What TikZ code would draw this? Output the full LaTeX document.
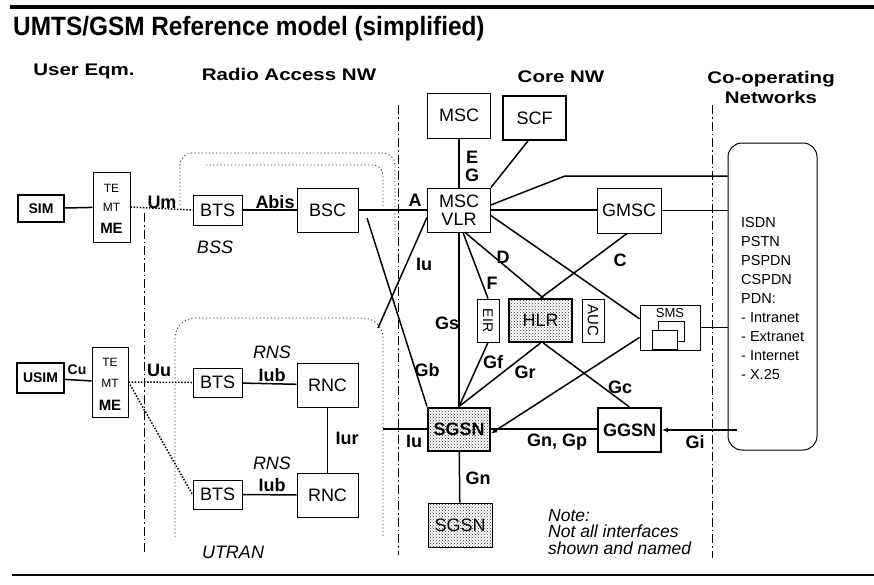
\documentclass[tikz,border=0pt]{standalone}
\usepackage{fontspec}
\usepackage{graphicx}
\setmainfont{Liberation Sans}
\newfontfamily\hdrfont[FakeStretch=1.22]{Liberation Sans}
\newfontfamily\ttlfont[FakeStretch=0.92]{Liberation Sans}
\usetikzlibrary{arrows.meta,patterns}
\newcommand\setfs[1]{\fontsize{#1}{#1}\selectfont}
\newcommand\setfsb[2]{\fontsize{#1}{#2}\selectfont}

\begin{document}
\begin{tikzpicture}[x=1pt,y=-1pt,
  box/.style={draw, line width=1pt, inner sep=0pt, font=\setfs{18}},
  heavy/.style={line width=2pt},
  stipple/.style={pattern=crosshatch dots, pattern color=black!80},
  lbl/.style={font=\bfseries\setfs{18}, inner sep=0pt},
  itlbl/.style={font=\itshape\setfs{18}, inner sep=0pt},
  hdr/.style={font=\hdrfont\bfseries\setfs{16.8}, inner sep=0pt, anchor=base},
  small/.style={font=\setfs{12}, inner sep=0pt},
  link/.style={line width=1.5pt},
  air/.style={line width=1.5pt, dash pattern=on 1.5pt off 1.6pt},
  frame/.style={line width=0.8pt, dash pattern=on 9pt off 3pt on 1.5pt off 3pt},
  zone/.style={line width=0.8pt, dash pattern=on 1.2pt off 2.4pt, black!80},
  tip/.style={-{Latex[length=6pt,width=5pt]}}
]
\useasboundingbox (0,0) rectangle (874,584);

% ---- rules and title ----
\coordinate (tl) at (10,6.5);  \coordinate (tr) at (874,6.5);
\coordinate (bl) at (12,575);  \coordinate (br) at (874,575);
\draw[line width=4pt] (tl) -- (tr);
\draw[line width=2.5pt] (bl) -- (br);
\node[anchor=base west, inner sep=0pt, font=\ttlfont\bfseries\setfs{26.5}] (title) at (13,35)
  {UMTS/GSM Reference model (simplified)};

% ---- column headers ----
\node[hdr] (hUE)  at (84,75)  {User Eqm.};
\node[hdr] (hRAN) at (289,80) {Radio Access NW};
\node[hdr] (hCN)  at (561,82) {Core NW};
\node[hdr] (hCO1) at (771,83) {Co-operating};
\node[hdr] (hCO2) at (771,103) {Networks};

% ---- domain borders ----
\coordinate (b1t) at (144,213); \coordinate (b1b) at (144,552);
\coordinate (b2t) at (398,105); \coordinate (b2b) at (398,555);
\coordinate (b3t) at (712,105); \coordinate (b3b) at (712,558);
\draw[frame] (b1t) -- (b1b);
\draw[frame] (b2t) -- (b2b);
\draw[frame] (b3t) -- (b3b);

% ---- BSS and UTRAN outlines ----
\draw[zone, rounded corners=12pt] (180,205) -- (180,153) -- (395,153) -- (395,235);
\draw[zone, rounded corners=10pt] (206,165) -- (383,165) -- (383,207);
\draw[zone, rounded corners=20pt] (175,537) -- (175,318) -- (383,318) -- (383,537);

% ---- user equipment ----
\node[box, line width=1.3pt, minimum width=46, minimum height=27, font=\bfseries\setfs{14}] (SIM) at (41,208.5) {SIM};
\node[box, minimum width=37, minimum height=70] (ME1) at (111.5,207) {};
\node[small] (te1) at (111.5,188) {TE};
\node[small] (mt1) at (111.5,207) {MT};
\node[inner sep=0pt, font=\bfseries\setfs{15}] (me1) at (111.5,228) {ME};

\node[box, line width=1.3pt, minimum width=47, minimum height=30, font=\bfseries\setfs{14}] (USIM) at (40.5,378) {USIM};
\node[box, minimum width=36, minimum height=70] (ME2) at (110,382) {};
\node[small] (te2) at (110,362) {TE};
\node[small] (mt2) at (110,383) {MT};
\node[inner sep=0pt, font=\bfseries\setfs{15}] (me2) at (110,405) {ME};

% ---- radio access ----
\node[box, minimum width=49, minimum height=30] (BTSg) at (217.5,210) {BTS};
\node[box, minimum width=61, minimum height=44] (BSC)  at (327.5,210) {BSC};
\node[box, minimum width=49, minimum height=29] (BTS1) at (217.5,382.5) {BTS};
\node[box, minimum width=49, minimum height=29] (BTS2) at (217.5,494.5) {BTS};
\node[box, minimum width=61, minimum height=44] (RNC1) at (327.5,385) {RNC};
\node[box, minimum width=61, minimum height=44] (RNC2) at (327.5,495) {RNC};

% ---- core network ----
\node[box, minimum width=63, minimum height=45] (MSC) at (459,115.5) {MSC};
\node[box, heavy, minimum width=63, minimum height=44] (SCF) at (534.5,118) {SCF};
\node[box, minimum width=63, minimum height=44, align=center, font=\setfs{18}] (VLR) at (459,210) {MSC\\VLR};
\node[box, minimum width=64, minimum height=45] (GMSC) at (629,210.5) {GMSC};
\node[box, minimum width=22, minimum height=43, font=\setfs{14}] (EIR) at (488,320.5) {\rotatebox{-90}{EIR}};
\node[box, heavy, stipple, minimum width=63, minimum height=43] (HLR) at (540.5,320.5) {HLR};
\node[box, minimum width=22, minimum height=43, font=\setfs{15}] (AUC) at (593,320.5) {\rotatebox{-90}{AUC}};
\node[box, minimum width=60, minimum height=45] (SMS) at (670,327.5) {};
\node[small, font=\setfs{13}] (smst) at (670,313) {SMS};
\draw[line width=1pt] (658,321) rectangle (684,341);
\draw[line width=1pt, fill=white] (652,330) rectangle (677,349);
\node[box, heavy, stipple, minimum width=62, minimum height=43, font=\bfseries\setfs{18}] (SGSN) at (459,429) {SGSN};
\node[box, heavy, minimum width=63, minimum height=44, font=\bfseries\setfs{18}] (GGSN) at (629.5,430) {GGSN};
\node[box, stipple, minimum width=64, minimum height=44] (SGSN2) at (460,525) {SGSN};

% ---- co-operating networks ----
\node[draw, line width=1pt, rounded corners=14pt, minimum width=89, minimum height=307, inner sep=0pt] (coop) at (772.5,296.5) {};
\node[anchor=north west, align=left, inner sep=0pt, font={\setfsb{14.5}{19}}] (nets) at (741,217)
  {ISDN\\PSTN\\PSPDN\\CSPDN\\PDN:\\- Intranet\\- Extranet\\- Internet\\- X.25};

% ---- interfaces, user side ----
\draw[link] (SIM) -- (ME1);
\draw[link] (USIM) -- (ME2);
\draw[air] (ME1.east) -- (BTSg.west);
\draw[air] (ME2.east) -- (BTS1.west);
\draw[air] (ME2.east) -- (BTS2.west);
\node[lbl, font=\bfseries\setfs{14}] (lCu) at (77,370) {Cu};
\node[lbl] (lUm) at (162,202) {Um};
\node[lbl] (lUu) at (159,370) {Uu};

% ---- interfaces, radio access ----
\draw[link] (BTSg) -- (BSC);
\draw[link] (BSC) -- (VLR);
\draw[link] (BTS1) -- (RNC1);
\draw[link] (BTS2) -- (RNC2);
\draw[link] (RNC1) -- (RNC2);
\node[lbl] (lAbis) at (275,202) {Abis};
\node[lbl] (lA) at (415,200) {A};
\node[itlbl] (lBSS) at (215,247) {BSS};
\node[itlbl] (lRNS1) at (272,352) {RNS};
\node[lbl] (lIub1) at (272,375) {Iub};
\node[itlbl] (lRNS2) at (272,463) {RNS};
\node[lbl] (lIub2) at (272,485) {Iub};
\node[lbl] (lIur) at (347,438) {Iur};
\node[itlbl] (lUTRAN) at (233,552) {UTRAN};

% ---- interfaces, core ----
\coordinate (gbtop) at (367,218);
\coordinate (iutop) at (378,328);
\coordinate (iuend) at (383,429);
\coordinate (k1) at (565,176);
\coordinate (gi) at (737,430);
\draw[link] (gbtop) -- (SGSN.north west);
\draw[link] (VLR.193) -- (iutop);
\draw[link] (iuend) -- (SGSN.west);
\draw[link] (MSC) -- (VLR);
\draw[link] (SCF.-106) -- (VLR.north east);
\draw[link] (VLR.9) -- (k1) -- (coop.west |- k1);
\draw[link] (VLR.east) -- (VLR.east -| GMSC.west);
\draw[link] (GMSC.east) -- (GMSC.east -| coop.west);
\draw[link] (VLR.-10) -- (SMS.164);
\draw[link] (VLR.-75) -- (HLR.83);
\draw[link] (GMSC.-95) -- (HLR.north);
\draw[link] (VLR.-80) -- (EIR.north);
\draw[link] (VLR.south) -- (SGSN.north);
\draw[link] (EIR.south) -- (SGSN.north);
\draw[link] (HLR.south) -- (SGSN.north);
\draw[link] (HLR.-83) -- (GGSN.north);
\draw[link, tip] (SMS.198) -- (SGSN.-8);
\draw[link] (SMS.east) -- (SMS.east -| coop.west);
\draw[link] (SGSN.east) -- (SGSN.east -| GGSN.west);
\draw[link, tip] (gi) -- (GGSN.east);
\draw[link] (SGSN) -- (SGSN2);

\node[lbl] (lE) at (472,157) {E};
\node[lbl] (lG) at (472,175) {G};
\node[lbl] (lIu1) at (424,264) {Iu};
\node[lbl] (lD) at (503,257) {D};
\node[lbl] (lC) at (620,260) {C};
\node[lbl] (lF) at (492,283) {F};
\node[lbl] (lGs) at (447,323) {Gs};
\node[lbl] (lGb) at (427,370) {Gb};
\node[lbl] (lGf) at (493,362) {Gf};
\node[lbl] (lGr) at (525,372) {Gr};
\node[lbl] (lGc) at (620,387) {Gc};
\node[lbl] (lIu2) at (414,441) {Iu};
\node[lbl] (lGnGp) at (557,442) {Gn, Gp};
\node[lbl] (lGi) at (695,442) {Gi};
\node[lbl] (lGn) at (478,478) {Gn};

\node[anchor=north west, align=left, inner sep=0pt, font={\itshape\setfsb{17.5}{16.5}}] (note) at (548,509)
  {Note:\\Not all interfaces\\shown and named};
\end{tikzpicture}
\end{document}
